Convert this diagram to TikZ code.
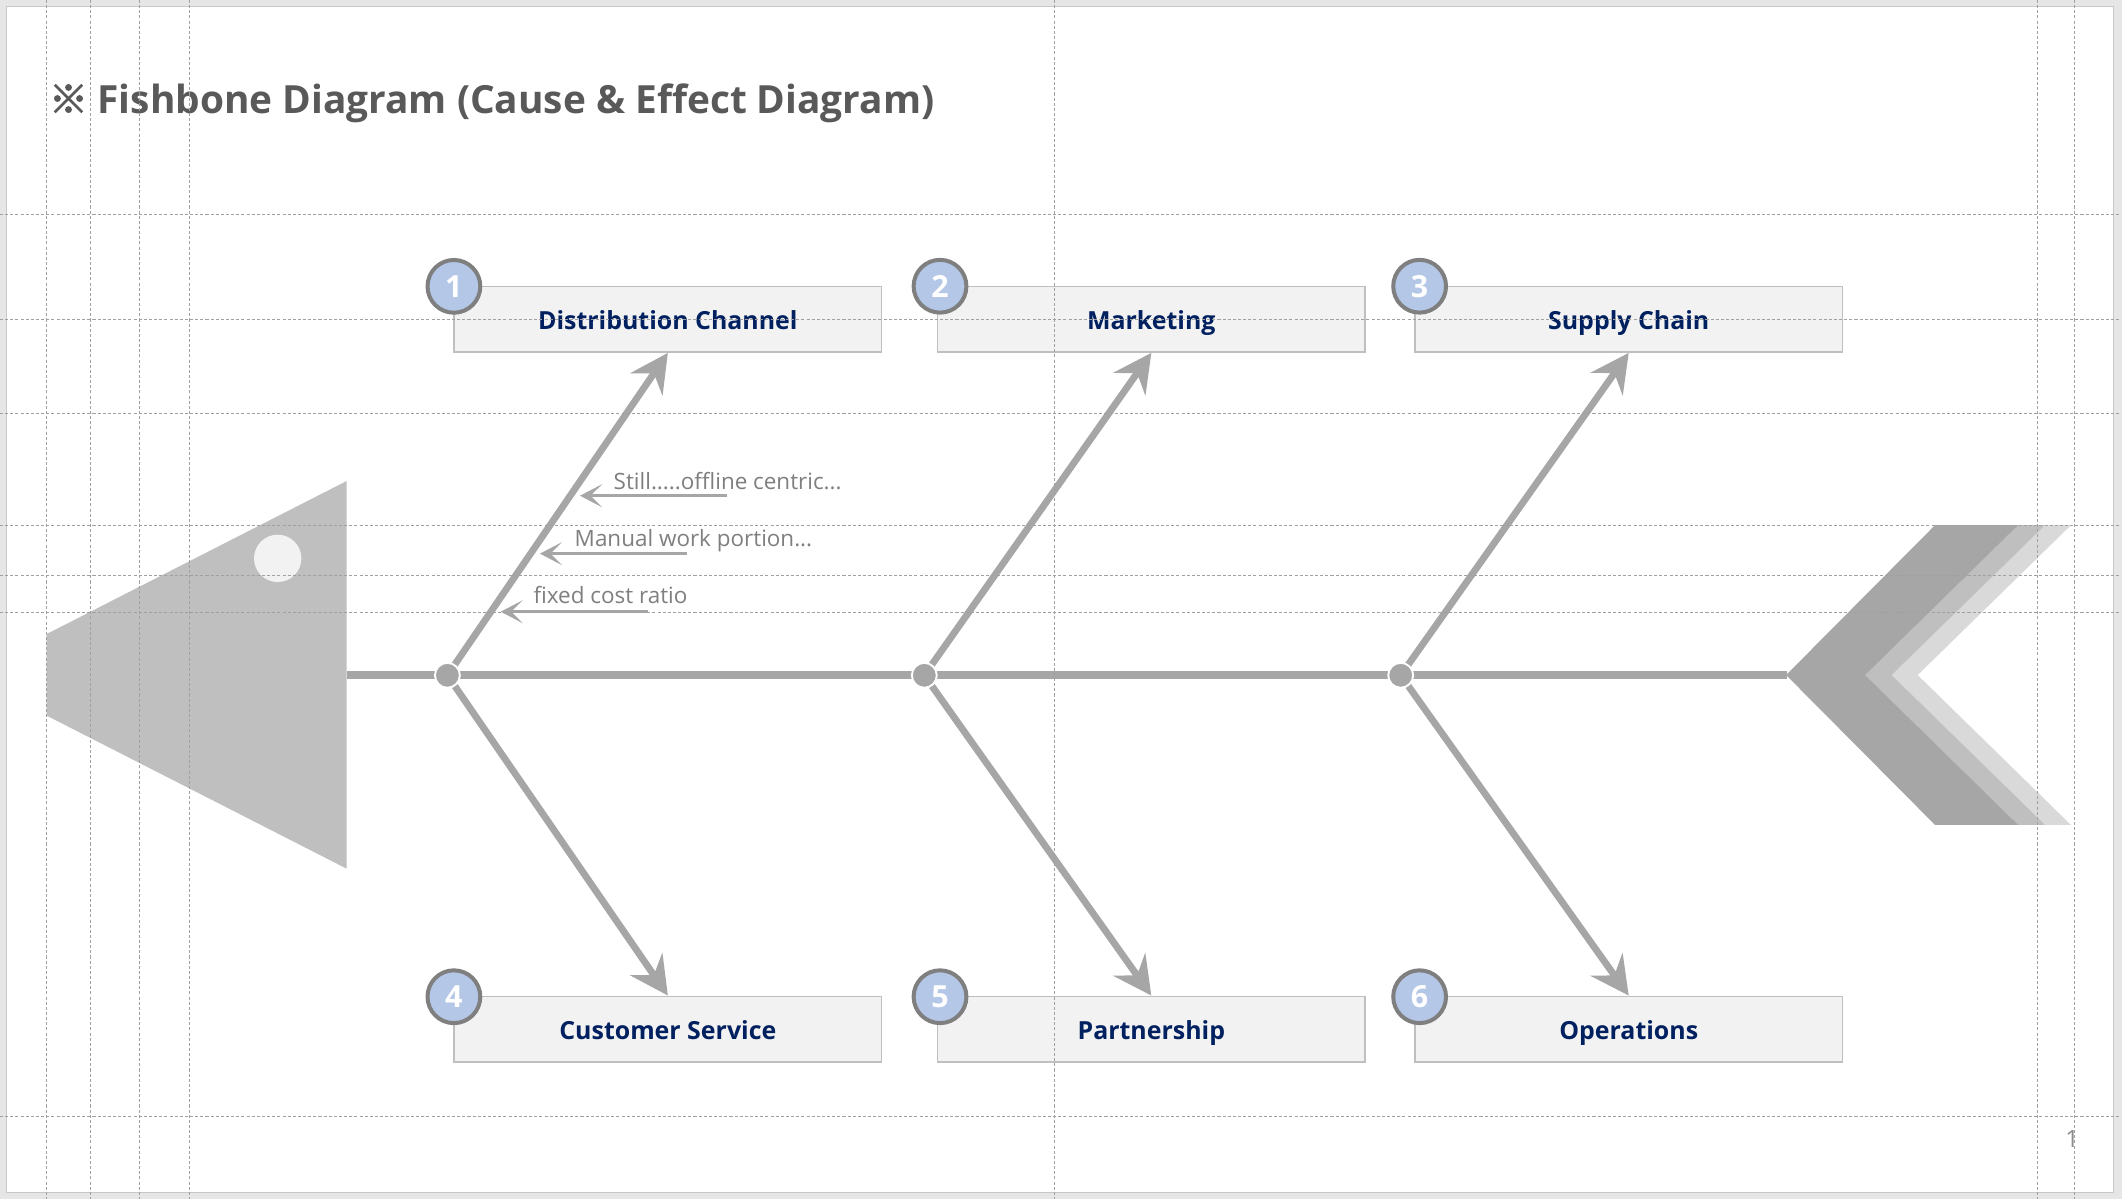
\documentclass[tikz,border=0pt]{standalone}
\usepackage{fontspec}
\setmainfont{Open Sans}
\newfontfamily\cjkfont{Noto Sans CJK KR}[AutoFakeBold=2.5]
\usetikzlibrary{arrows.meta}
\definecolor{pagebg}{HTML}{E6E6E6}
\definecolor{slideborder}{HTML}{C8C8C8}
\definecolor{headgray}{HTML}{BFBFBF}
\definecolor{eyecol}{HTML}{F2F2F2}
\definecolor{bonegray}{HTML}{A6A6A6}
\definecolor{chevA}{HTML}{A6A6A6}
\definecolor{chevB}{HTML}{BFBFBF}
\definecolor{chevC}{HTML}{D9D9D9}
\definecolor{boxfill}{HTML}{F2F2F2}
\definecolor{boxborder}{HTML}{BFBFBF}
\definecolor{navy}{HTML}{002060}
\definecolor{circfill}{HTML}{B4C7E7}
\definecolor{circborder}{HTML}{7F7F7F}
\definecolor{titlegray}{HTML}{595959}
\definecolor{subgray}{HTML}{7F7F7F}
\definecolor{pagenum}{HTML}{8C8C8C}
\definecolor{guidegray}{HTML}{A0A0A0}
\tikzset{
  guide/.style={draw=guidegray, line width=0.5pt, dash pattern=on 1.6pt off 1.1pt},
  spine/.style={draw=bonegray, line width=3.84pt},
  bone/.style={draw=bonegray, line width=3.6pt, -{Stealth[length=20pt,width=20.5pt,inset=7pt]}},
  subarrow/.style={draw=bonegray, line width=1.6pt, -{Stealth[length=11.5pt,width=12pt,inset=6pt]}},
  causebox/.style={rectangle, draw=boxborder, fill=boxfill, line width=0.8pt,
    minimum width=79mm, minimum height=12.1mm, inner sep=0pt,
    text height=11pt, text depth=0pt, text=navy,
    font=\bfseries\fontsize{13.1}{16}\selectfont},
  numcircle/.style={circle, draw=circborder, fill=circfill, line width=2.1pt,
    minimum size=9.75mm, inner sep=0pt, text=white,
    font=\bfseries\fontsize{16}{18}\selectfont},
  jdot/.style={circle, fill=bonegray, draw=white, line width=1pt, minimum size=4.6mm, inner sep=0pt},
  subtext/.style={anchor=base west, inner sep=0pt, text=subgray, font=\fontsize{11.8}{14}\selectfont},
}
\begin{document}
\begin{tikzpicture}[x=0.25mm,y=-0.25mm]
\useasboundingbox (0,0) rectangle (1568,886);
% page background and slide
\fill[pagebg] (0,0) rectangle (1568,886);
\draw[slideborder, fill=white, line width=0.6pt] (4.7,4.7) rectangle (1562,881);

% title
\node[anchor=base west, inner sep=0pt, text=titlegray, font=\bfseries\fontsize{20.4}{24}\selectfont] (title) at (36,83.7)
  {{\cjkfont ※}\hspace{0.25em}Fishbone Diagram (Cause \& Effect Diagram)};

% fish head
\fill[headgray] (34.5,468.5) -- (256.2,355.4) -- (256.2,641.9) -- (34.5,528.8) -- cycle;
\fill[eyecol] (205.2,412.6) circle[radius=4.375mm];

% tail chevrons
\fill[chevC] (1397.8,498.8) -- (1511.2,388) -- (1530.3,388) -- (1417,498.8) -- (1530.3,609.6) -- (1511.2,609.6) -- cycle;
\fill[chevB] (1378.2,498.8) -- (1491.4,388) -- (1511.2,388) -- (1397.8,498.8) -- (1511.2,609.6) -- (1491.4,609.6) -- cycle;
\fill[chevA] (1319.8,498.8) -- (1429.9,388) -- (1491.4,388) -- (1378.2,498.8) -- (1491.4,609.6) -- (1429.9,609.6) -- cycle;

% spine
\coordinate (headR) at (256.2,498.8);
\coordinate (tailP) at (1320.5,498.8);
\draw[spine] (headR) -- (tailP);

% cause boxes
\node[causebox] (b1) at (493.5,236) {Distribution Channel};
\node[causebox] (b2) at (850.75,236) {Marketing};
\node[causebox] (b3) at (1203.5,236) {Supply Chain};
\node[causebox] (b4) at (493.5,760.4) {Customer Service};
\node[causebox] (b5) at (850.75,760.4) {Partnership};
\node[causebox] (b6) at (1203.5,760.4) {Operations};

% junctions
\coordinate (j1) at (330.6,499);
\coordinate (j2) at (683,499);
\coordinate (j3) at (1035,499);

% bones
\draw[bone] (j1) -- (b1.south);
\draw[bone] (j2) -- (b2.south);
\draw[bone] (j3) -- (b3.south);
\draw[bone] (j1) -- (b4.north);
\draw[bone] (j2) -- (b5.north);
\draw[bone] (j3) -- (b6.north);

\node[jdot] (d1) at (j1) {};
\node[jdot] (d2) at (j2) {};
\node[jdot] (d3) at (j3) {};

% number circles
\node[numcircle] (c1) at (335.4,211.6) {1};
\node[numcircle] (c2) at (694.6,211.5) {2};
\node[numcircle] (c3) at (1049,211.5) {3};
\node[numcircle] (c4) at (335.4,736.5) {4};
\node[numcircle] (c5) at (694.6,736.5) {5};
\node[numcircle] (c6) at (1049,736.5) {6};

% sub causes
\coordinate (s1) at (537,366.3);  \coordinate (t1) at (428.6,366.3);
\coordinate (s2) at (507.4,409.1); \coordinate (t2) at (399,409.1);
\coordinate (s3) at (479,452);    \coordinate (t3) at (370,452);
\draw[subarrow] (s1) -- (t1);
\draw[subarrow] (s2) -- (t2);
\draw[subarrow] (s3) -- (t3);
\node[subtext] (st1) at (453.2,361.6) {Still.....offline centric...};
\node[subtext] (st2) at (424.4,404) {Manual work portion...};
\node[subtext] (st3) at (394,445.8) {fixed cost ratio};

% page number
\node[anchor=base east, inner sep=0pt, text=pagenum, font=\fontsize{12.5}{14}\selectfont] (pnum) at (1536.5,847.8) {1};

% guides
\foreach \gx in {34.5,66.7,103,140,779.1,1505.5,1532.8}
  \draw[guide] (\gx,0) -- (\gx,886);
\foreach \gy in {158.4,236,305.4,388,425.1,452.5,824.7}
  \draw[guide] (0,\gy) -- (1568,\gy);
\end{tikzpicture}
\end{document}
